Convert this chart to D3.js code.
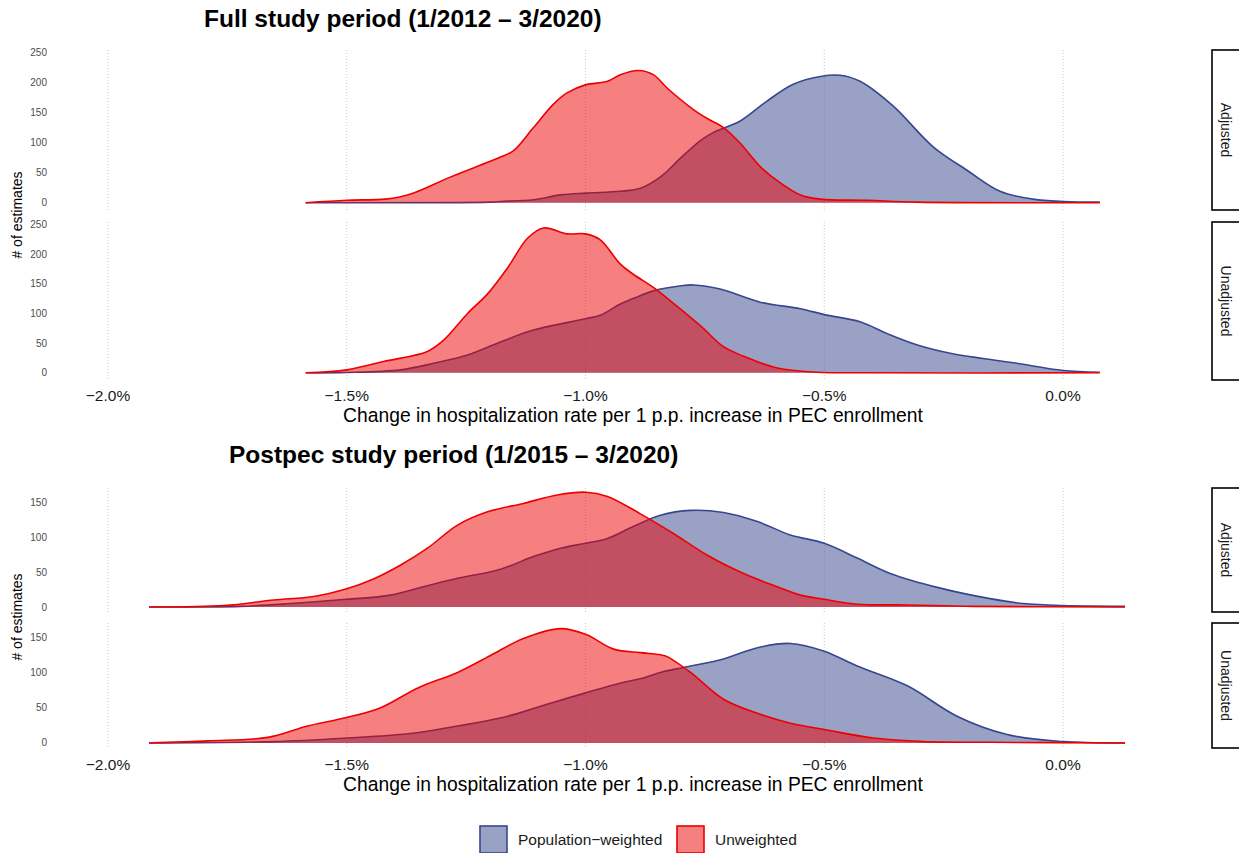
<!DOCTYPE html>
<html>
<head>
<meta charset="utf-8">
<script src="https://cdn.jsdelivr.net/npm/d3@7"></script>
<style>
  body { margin: 0; background: #fff; }
  svg { font-family: "Liberation Sans", Arial, sans-serif; }
</style>
</head>
<body>
<svg id="chart" width="1239" height="853"></svg>
<script>
// x = change in rate (%), y = # of estimates
const xTicks = [-2.0, -1.5, -1.0, -0.5, 0.0];
const seriesNames = ['Population\u2212weighted', 'Unweighted'];
const panelNames = ['Adjusted', 'Unadjusted'];

// Full study period
const fullAdjPop = [[-1.586,0],[-1.2,1],[-1.178,2],[-1.109,5],[-1.052,13],[-1.0,16],[-0.927,19],[-0.885,24],[-0.843,43],[-0.80,75],[-0.76,103],[-0.732,117],[-0.676,136],[-0.62,169],[-0.565,197],[-0.508,210],[-0.467,212],[-0.425,202],[-0.356,161],[-0.272,93],[-0.201,54],[-0.132,19],[-0.063,6],[0,2],[0.077,1]];
const fullAdjUnw = [[-1.586,0],[-1.5,4],[-1.42,6],[-1.387,10],[-1.36,16],[-1.282,43],[-1.178,76],[-1.15,87],[-1.109,125],[-1.067,164],[-1.038,183],[-1.0,196],[-0.954,202],[-0.927,213],[-0.889,220],[-0.858,213],[-0.828,190],[-0.774,155],[-0.745,140],[-0.711,125],[-0.676,99],[-0.634,60],[-0.592,33],[-0.55,13],[-0.508,6],[-0.41,4],[-0.305,1],[0.077,0]];
const fullUnaPop = [[-1.586,0],[-1.5,0.5],[-1.387,5],[-1.318,16],[-1.247,30],[-1.178,52],[-1.109,72],[-1.0,91],[-0.969,97],[-0.927,116],[-0.9,125],[-0.858,138],[-0.795,147],[-0.774,148],[-0.718,141],[-0.634,119],[-0.55,108],[-0.5,98],[-0.425,86],[-0.368,66],[-0.305,47],[-0.236,33],[-0.167,24],[-0.097,16],[0,4],[0.077,1]];
const fullUnaUnw = [[-1.586,0],[-1.5,5],[-1.423,19],[-1.331,36],[-1.297,55],[-1.247,100],[-1.205,133],[-1.163,177],[-1.121,227],[-1.088,244],[-1.038,234],[-1.0,234],[-0.969,224],[-0.927,183],[-0.9,166],[-0.858,144],[-0.828,125],[-0.759,79],[-0.711,44],[-0.669,28],[-0.598,8],[-0.515,1],[-0.4,0],[0.077,0]];

// Postpec study period
const postAdjPop = [[-1.914,0],[-1.722,1],[-1.617,5],[-1.5,11],[-1.408,17],[-1.339,29],[-1.268,41],[-1.178,54],[-1.109,72],[-1.052,84],[-1.0,91],[-0.954,98],[-0.9,115],[-0.843,131],[-0.78,138],[-0.711,135],[-0.64,122],[-0.571,103],[-0.5,91],[-0.431,70],[-0.362,48],[-0.257,27],[-0.153,12],[-0.084,5],[0,2],[0.13,1]];
const postAdjUnw = [[-1.914,0],[-1.757,2],[-1.653,10],[-1.569,15],[-1.5,26],[-1.444,40],[-1.387,60],[-1.331,84],[-1.268,117],[-1.205,136],[-1.13,148],[-1.059,160],[-1.0,164],[-0.954,158],[-0.885,133],[-0.816,105],[-0.745,74],[-0.676,50],[-0.607,31],[-0.55,17],[-0.5,11],[-0.431,4],[-0.326,3],[-0.188,1],[0.13,0]];
const postUnaPop = [[-1.914,0],[-1.653,2],[-1.5,7],[-1.372,13],[-1.268,24],[-1.163,38],[-1.094,52],[-1.0,71],[-0.92,86],[-0.885,91],[-0.843,100],[-0.795,107],[-0.711,119],[-0.64,135],[-0.571,141],[-0.5,130],[-0.431,109],[-0.326,81],[-0.222,38],[-0.117,12],[0,2],[0.13,0]];
const postUnaUnw = [[-1.914,0],[-1.791,3],[-1.665,8],[-1.582,24],[-1.5,36],[-1.429,50],[-1.351,78],[-1.268,100],[-1.199,124],[-1.13,148],[-1.052,162],[-1.0,154],[-0.941,133],[-0.885,128],[-0.843,125],[-0.828,122],[-0.78,100],[-0.711,62],[-0.64,42],[-0.571,28],[-0.5,19],[-0.397,7],[-0.293,2],[-0.15,1],[0.13,0]];

const fullYTicks = [0, 50, 100, 150, 200, 250];
const postYTicks = [0, 50, 100, 150];

const colors = { line: ['#37468f', '#ee0000'], fill: ['#33438c', '#ee0000'] };

const svg = d3.select('#chart');
svg.append('rect').attr('width', 1239).attr('height', 853).attr('fill', '#fff');

const x = d3.scaleLinear().domain([-2, 0]).range([108, 1063]);
const fmt = d => (d < 0 ? '\u2212' : '') + Math.abs(d).toFixed(1) + '%';

function drawChart(opt) {
    const g = svg.append('g');

    g.append('text')
        .attr('x', opt.titleX).attr('y', opt.titleY)
        .attr('font-size', 24.5).attr('font-weight', 'bold')
        .text(opt.title);

    opt.panels.forEach((p, i) => {
        const y = d3.scaleLinear().domain(opt.yDomain).range([p.bottom, p.top]);
        const pg = g.append('g');

        // dotted vertical grid
        pg.selectAll('line.grid')
            .data(xTicks)
            .enter()
            .append('line')
            .attr('x1', d => x(d)).attr('x2', d => x(d))
            .attr('y1', p.top).attr('y2', p.bottom)
            .attr('stroke', '#c8c8c8')
            .attr('stroke-width', 1)
            .attr('stroke-dasharray', '1,2');

        // y tick labels
        pg.selectAll('text.ytick')
            .data(opt.yTicks)
            .enter()
            .append('text')
            .attr('x', 47)
            .attr('y', d => y(d))
            .attr('dy', '0.35em')
            .attr('text-anchor', 'end')
            .attr('font-size', 10)
            .attr('fill', '#4d4d4d')
            .text(d => d);

        const clampY = d => y(Math.max(0, d));
        const area = d3.area()
            .x(d => x(d[0]))
            .y0(y(0))
            .y1(d => clampY(d[1]))
            .curve(d3.curveCatmullRom.alpha(0.5));
        const line = d3.line()
            .x(d => x(d[0]))
            .y(d => clampY(d[1]))
            .curve(d3.curveCatmullRom.alpha(0.5));

        p.series.forEach((s, k) => {
            pg.append('path')
                .datum(s)
                .attr('d', area)
                .attr('fill', colors.fill[k])
                .attr('fill-opacity', 0.5);
            pg.append('path')
                .datum(s)
                .attr('d', line)
                .attr('fill', 'none')
                .attr('stroke', colors.line[k])
                .attr('stroke-width', 1.6);
        });

        // facet strip on the right
        pg.append('rect')
            .attr('x', 1212).attr('y', p.top)
            .attr('width', 40).attr('height', p.bottom - p.top)
            .attr('fill', '#fff')
            .attr('stroke', '#000')
            .attr('stroke-width', 1.6);
        const cy = (p.top + p.bottom) / 2;
        pg.append('text')
            .attr('transform', `translate(1226,${cy}) rotate(90)`)
            .attr('text-anchor', 'middle')
            .attr('dy', '0.35em')
            .attr('font-size', 14)
            .attr('fill', '#1a1a1a')
            .text(panelNames[i]);
    });

    // x axis tick labels
    g.selectAll('text.xtick')
        .data(xTicks)
        .enter()
        .append('text')
        .attr('x', d => x(d))
        .attr('y', opt.xTickY)
        .attr('text-anchor', 'middle')
        .attr('font-size', 15.5)
        .attr('fill', '#1a1a1a')
        .text(fmt);

    g.append('text')
        .attr('x', 633).attr('y', opt.xTitleY)
        .attr('text-anchor', 'middle')
        .attr('font-size', 19.3)
        .text('Change in hospitalization rate per 1 p.p. increase in PEC enrollment');

    g.append('text')
        .attr('transform', `translate(22,${opt.yTitleY}) rotate(-90)`)
        .attr('text-anchor', 'middle')
        .attr('font-size', 14)
        .text('# of estimates');
}

drawChart({
    title: 'Full study period (1/2012 \u2013 3/2020)',
    titleX: 204, titleY: 27,
    yDomain: [-12.1, 254],
    yTicks: fullYTicks,
    xTickY: 401, xTitleY: 422, yTitleY: 215,
    panels: [
        { top: 50, bottom: 210, series: [fullAdjPop, fullAdjUnw] },
        { top: 222, bottom: 380, series: [fullUnaPop, fullUnaUnw] }
    ]
});

drawChart({
    title: 'Postpec study period (1/2015 \u2013 3/2020)',
    titleX: 229, titleY: 463,
    yDomain: [-7.1, 170],
    yTicks: postYTicks,
    xTickY: 770, xTitleY: 791, yTitleY: 617,
    panels: [
        { top: 488, bottom: 612, series: [postAdjPop, postAdjUnw] },
        { top: 623, bottom: 748, series: [postUnaPop, postUnaUnw] }
    ]
});

// legend
const legend = svg.append('g').attr('transform', 'translate(479,825)');
const items = [{ x: 0, tx: 39 }, { x: 197, tx: 236 }];
items.forEach((it, k) => {
    legend.append('rect')
        .attr('x', it.x + 1).attr('y', 1)
        .attr('width', 27).attr('height', 27)
        .attr('fill', colors.fill[k])
        .attr('fill-opacity', 0.5)
        .attr('stroke', colors.line[k])
        .attr('stroke-width', 1.6);
    legend.append('text')
        .attr('x', it.tx).attr('y', 15)
        .attr('dy', '0.35em')
        .attr('font-size', 15.5)
        .attr('fill', '#1a1a1a')
        .text(seriesNames[k]);
});
</script>
</body>
</html>
